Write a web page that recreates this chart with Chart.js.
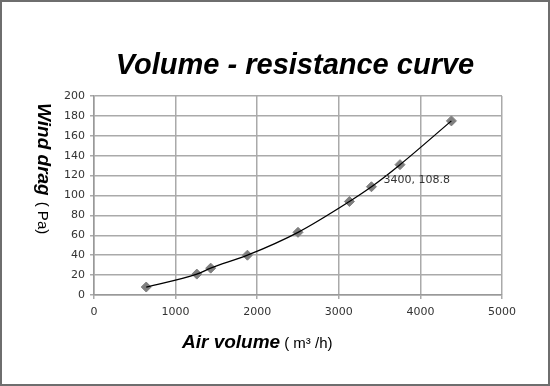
<!DOCTYPE html>
<html>
<head>
<meta charset="utf-8">
<script src="https://cdn.jsdelivr.net/npm/chart.js@4"></script>
<style>
  html, body { margin: 0; padding: 0; background: #fff; }
  #wrap { width: 550px; height: 386px; }
</style>
</head>
<body>
<div id="wrap"><canvas id="myChart" width="550" height="386"></canvas></div>
<script>
// air volume (m3/h) and wind drag (Pa)
var airVolume = [640, 1260, 1430, 1880, 2500, 3130, 3400, 3750, 4380];
var windDrag = [8, 21, 27, 40, 63, 94, 108.8, 131, 175];
var labelIndex = 6;

var points = airVolume.map(function (v, i) { return { x: v, y: windDrag[i] }; });

var extras = {
    id: 'extras',
    afterDraw: function (chart) {
        var c = chart.ctx;
        var xs = chart.scales.x, ys = chart.scales.y;
        c.save();
        // title
        c.fillStyle = '#000';
        c.textAlign = 'center';
        c.textBaseline = 'alphabetic';
        c.font = 'italic bold 29px "Liberation Sans", Arial, sans-serif';
        c.fillText('Volume - resistance curve', 295, 74);

        // x axis title
        c.textAlign = 'left';
        c.font = 'italic bold 19px "Liberation Sans", Arial, sans-serif';
        var t1 = 'Air volume';
        var w1 = c.measureText(t1).width;
        c.fillText(t1, 182, 348);
        c.font = '15px "Liberation Sans", Arial, sans-serif';
        c.fillText('( m\u00b3 /h)', 182 + w1 + 4, 348);

        // y axis title, read top to bottom
        c.translate(38, 103);
        c.rotate(Math.PI / 2);
        c.font = 'italic bold 19px "Liberation Sans", Arial, sans-serif';
        var t2 = 'Wind drag';
        var w2 = c.measureText(t2).width;
        c.fillText(t2, 0, 0);
        c.font = '15px "Liberation Sans", Arial, sans-serif';
        c.fillText('( Pa)', w2 + 6, 0);
        c.setTransform(1, 0, 0, 1, 0, 0);

        // data label
        var px = xs.getPixelForValue(airVolume[labelIndex]);
        var py = ys.getPixelForValue(windDrag[labelIndex]);
        c.font = '11px "DejaVu Sans", sans-serif';
        c.fillStyle = '#333';
        c.textBaseline = 'middle';
        c.fillText(airVolume[labelIndex] + ', ' + windDrag[labelIndex], px + 12, py - 7);

        // frame
        c.strokeStyle = '#6e6e6e';
        c.lineWidth = 2;
        c.strokeRect(1, 1, 548, 384);
        c.restore();
    }
};

var ctx = document.getElementById('myChart').getContext('2d');
var myChart = new Chart(ctx, {
    type: 'scatter',
    data: {
        datasets: [{
            label: 'trend',
            data: points,
            showLine: true,
            borderColor: '#000',
            borderWidth: 1.3,
            cubicInterpolationMode: 'monotone',
            pointRadius: 0,
            order: 0
        }, {
            label: 'Wind drag',
            data: points,
            pointStyle: 'rectRot',
            pointRadius: 5,
            backgroundColor: '#7f7f7f',
            borderColor: '#7f7f7f',
            borderWidth: 1,
            order: 1
        }]
    },
    options: {
        responsive: false,
        animation: false,
        layout: { padding: { left: 0, top: 96, right: 48, bottom: 0 } },
        plugins: {
            legend: { display: false },
            tooltip: { enabled: false }
        },
        scales: {
            x: {
                type: 'linear',
                min: 0,
                max: 5000,
                afterFit: function (s) { s.height = 91; },
                ticks: {
                    stepSize: 1000,
                    padding: 7,
                    color: '#333333',
                    font: { family: 'DejaVu Sans', size: 11 },
                    callback: function (v) { return String(v); }
                },
                grid: { color: '#aaaaaa', lineWidth: 1.5, tickLength: 4 },
                border: { color: '#999999', width: 1.5 }
            },
            y: {
                min: 0,
                max: 200,
                afterFit: function (s) { s.width = 94; },
                ticks: {
                    stepSize: 20,
                    padding: 5,
                    color: '#333333',
                    font: { family: 'DejaVu Sans', size: 11 },
                    callback: function (v) { return String(v); }
                },
                grid: { color: '#aaaaaa', lineWidth: 1.5, tickLength: 4 },
                border: { color: '#999999', width: 1.5 }
            }
        }
    },
    plugins: [extras]
});
</script>
</body>
</html>
